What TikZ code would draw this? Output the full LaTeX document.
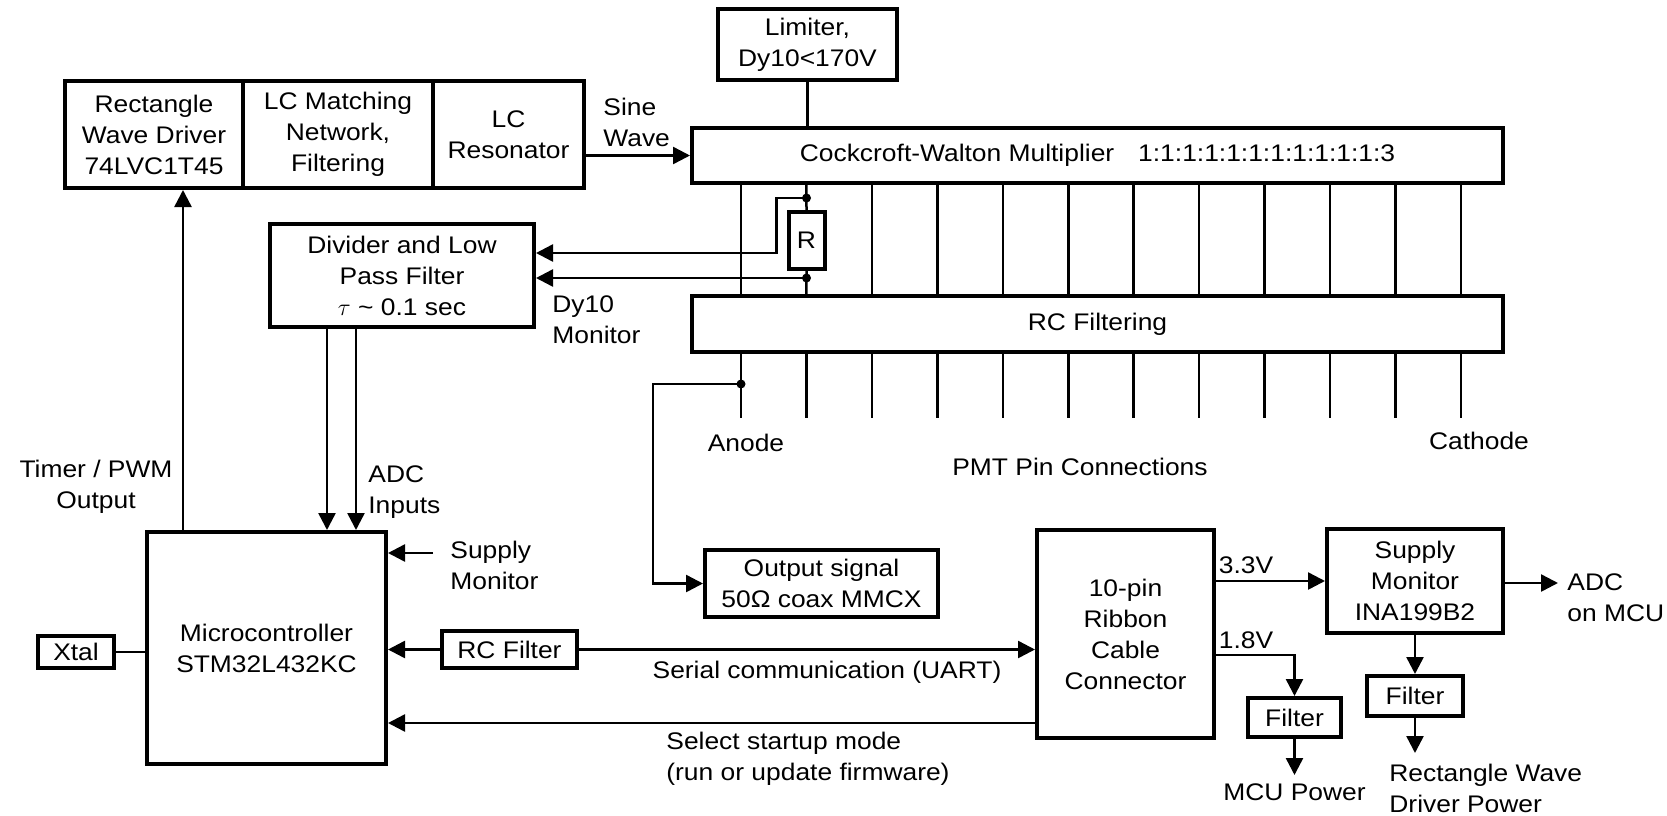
\documentclass[tikz,border=0pt]{standalone}
\usepackage{fontspec}
\setmainfont[FakeStretch=1.1]{Liberation Sans}
\usetikzlibrary{arrows.meta,calc}

\tikzset{
  blk/.style={draw, line width=2pt, align=center, inner sep=0pt},
  wire/.style={line width=1.25pt},
  arr/.style={wire, -{Triangle[length=8.5pt,width=8.5pt]}},
  lbl/.style={inner sep=0pt, align=center},
  jdot/.style={circle, fill, inner sep=0pt, minimum size=4.5pt},
}

\begin{document}
\begin{tikzpicture}[x=0.5pt,y=-0.5pt,font=\fontsize{12}{15.5}\selectfont]
  \useasboundingbox (0,0) rectangle (1667,815);
  % Driver chain
  \node[blk, minimum width=89pt, minimum height=53.5pt] (rwd) at (154,134.5) {Rectangle\\Wave Driver\\74LVC1T45};
  \node[blk, minimum width=95pt, minimum height=53.5pt] (lcm) at (338,134.5) {LC Matching\\Network,\\Filtering};
  \node[blk, minimum width=75.5pt, minimum height=53.5pt] (lcr) at (508.5,134.5) {LC\\Resonator};
  % High voltage part
  \node[blk, minimum width=89.5pt, minimum height=35.5pt] (lim) at (807.5,44.5) {Limiter,\\Dy10<170V};
  \node[blk, minimum width=405.5pt, minimum height=27.5pt] (cw) at (1097.5,155.5) {Cockcroft-Walton Multiplier\quad 1:1:1:1:1:1:1:1:1:1:1:3};
  \node[blk, minimum width=405.5pt, minimum height=28pt] (rc) at (1097.5,324) {RC Filtering};
  \node[blk, minimum width=18pt, minimum height=28.5pt] (R) at (806.5,240.5) {R};
  \node[blk, minimum width=132pt, minimum height=51.5pt] (div) at (402,275.5) {Divider and Low\\Pass Filter\\$\tau$ \textasciitilde{} 0.1 sec};
  % Microcontroller side
  \node[blk, minimum width=119.5pt, minimum height=116pt] (mcu) at (266.5,648) {Microcontroller\\STM32L432KC};
  \node[blk, minimum width=38pt, minimum height=16pt] (xtal) at (76,652) {Xtal};
  \node[blk, minimum width=67.5pt, minimum height=18.5pt] (rcf) at (509.5,649.5) {RC Filter};
  \node[blk, minimum width=116.5pt, minimum height=33.5pt] (out) at (821.5,583.5) {Output signal\\50Ω coax MMCX};
  % Power side
  \node[blk, minimum width=88.5pt, minimum height=104pt] (rib) at (1125.5,634) {10-pin\\Ribbon\\Cable\\Connector};
  \node[blk, minimum width=88pt, minimum height=52pt] (sup) at (1415,581) {Supply\\Monitor\\INA199B2};
  \node[blk, minimum width=46.5pt, minimum height=19.5pt] (f1) at (1294.5,717.5) {Filter};
  \node[blk, minimum width=48pt, minimum height=20pt] (f2) at (1415,696) {Filter};

  % PMT pins
  \foreach \i in {0,...,11} \coordinate (p\i) at ({741+65.45*\i},0);
  \coordinate (pinend) at (0,418);
  \foreach \i in {0,2,3,...,11} \draw[wire] (p\i |- cw.south) -- (p\i |- rc.north);
  \foreach \i in {0,...,11} \draw[wire] (p\i |- rc.south) -- (p\i |- pinend);
  \draw[wire] (p1 |- cw.south) -- (R.north);
  \draw[wire] (R.south) -- (p1 |- rc.north);
  \draw[wire] (lim.south) -- (lim.south |- cw.north);

  % Dy10 monitor taps
  \node[jdot] (rtop) at (806.5,198) {};
  \node[jdot] (rbot) at (806.5,278) {};
  \draw[arr] (rtop.center) -- ++(-30,0) |- ([yshift=11.25pt]div.east);
  \draw[arr] (rbot.center) -- (rbot -| div.east);

  % Anode output
  \node[jdot] (adot) at (741,384) {};
  \draw[arr] (adot.center) -- ++(-88,0) |- (out.west);

  % Signals
  \draw[arr] (lcr.east |- cw.west) -- (cw.west);
  \draw[arr] ([xshift=14.5pt]rwd.south |- mcu.north) -- ([xshift=14.5pt]rwd.south);
  \draw[arr] ([xshift=-37.5pt]div.south) -- ([xshift=-37.5pt]div.south |- mcu.north);
  \draw[arr] ([xshift=-23pt]div.south) -- ([xshift=-23pt]div.south |- mcu.north);
  \coordinate (smin) at (433,553);
  \draw[arr] (smin) -- (smin -| mcu.east);
  \draw[wire] (xtal.east) -- (xtal.east -| mcu.west);
  \draw[arr] (rcf.west) -- (rcf.west -| mcu.east);
  \draw[arr] (rcf.east) -- (rcf.east -| rib.west);
  \draw[arr] ([yshift=-44.5pt]rib.west) -- ([yshift=-44.5pt]rib.west -| mcu.east);

  % Supply rails
  \draw[arr] (sup.west -| rib.east) -- (sup.west);
  \draw[arr] ([yshift=-10.5pt]rib.east) -| (f1.north);
  \draw[arr] (f1.south) -- ++(0,36) coordinate (mcupw);
  \draw[arr] (sup.south) -- (f2.north);
  \draw[arr] (f2.south) -- ++(0,35) coordinate (rwdpw);
  \draw[arr] (sup.east |- 0,583) -- ++(53,0) coordinate (adcmcu);

  % Labels
  \node[lbl, anchor=west, align=left] (sinel) at (603,122) {Sine\\Wave};
  \node[lbl, anchor=west, align=left] (dyl) at (552,320) {Dy10\\Monitor};
  \node[lbl] (timl) at (96,487) {Timer / PWM\\Output};
  \node[lbl, anchor=west, align=left] (adcl) at (368,492) {ADC\\Inputs};
  \node[lbl, anchor=west, align=left] (supl) at (450,565) {Supply\\Monitor};
  \node[lbl] (anl) at (746,443) {Anode};
  \node[lbl] (cal) at (1479,441) {Cathode};
  \node[lbl] (pmtl) at (1080,467) {PMT Pin Connections};
  \node[lbl] (serl) at (827,672) {Serial communication (UART)};
  \node[lbl, anchor=west, align=left] (sell) at (666,759) {Select startup mode\\(run or update firmware)};
  \node[lbl] (v33) at (1246,565) {3.3V};
  \node[lbl] (v18) at (1246,640) {1.8V};
  \node[lbl, anchor=north] (mcupl) at ([yshift=-4pt]mcupw) {MCU Power};
  \node[lbl, anchor=west, align=left] (rwdpl) at (1389,788) {Rectangle Wave\\Driver Power};
  \node[lbl, anchor=west, align=left] (adcml) at (1567,598) {ADC\\on MCU};
\end{tikzpicture}
\end{document}
